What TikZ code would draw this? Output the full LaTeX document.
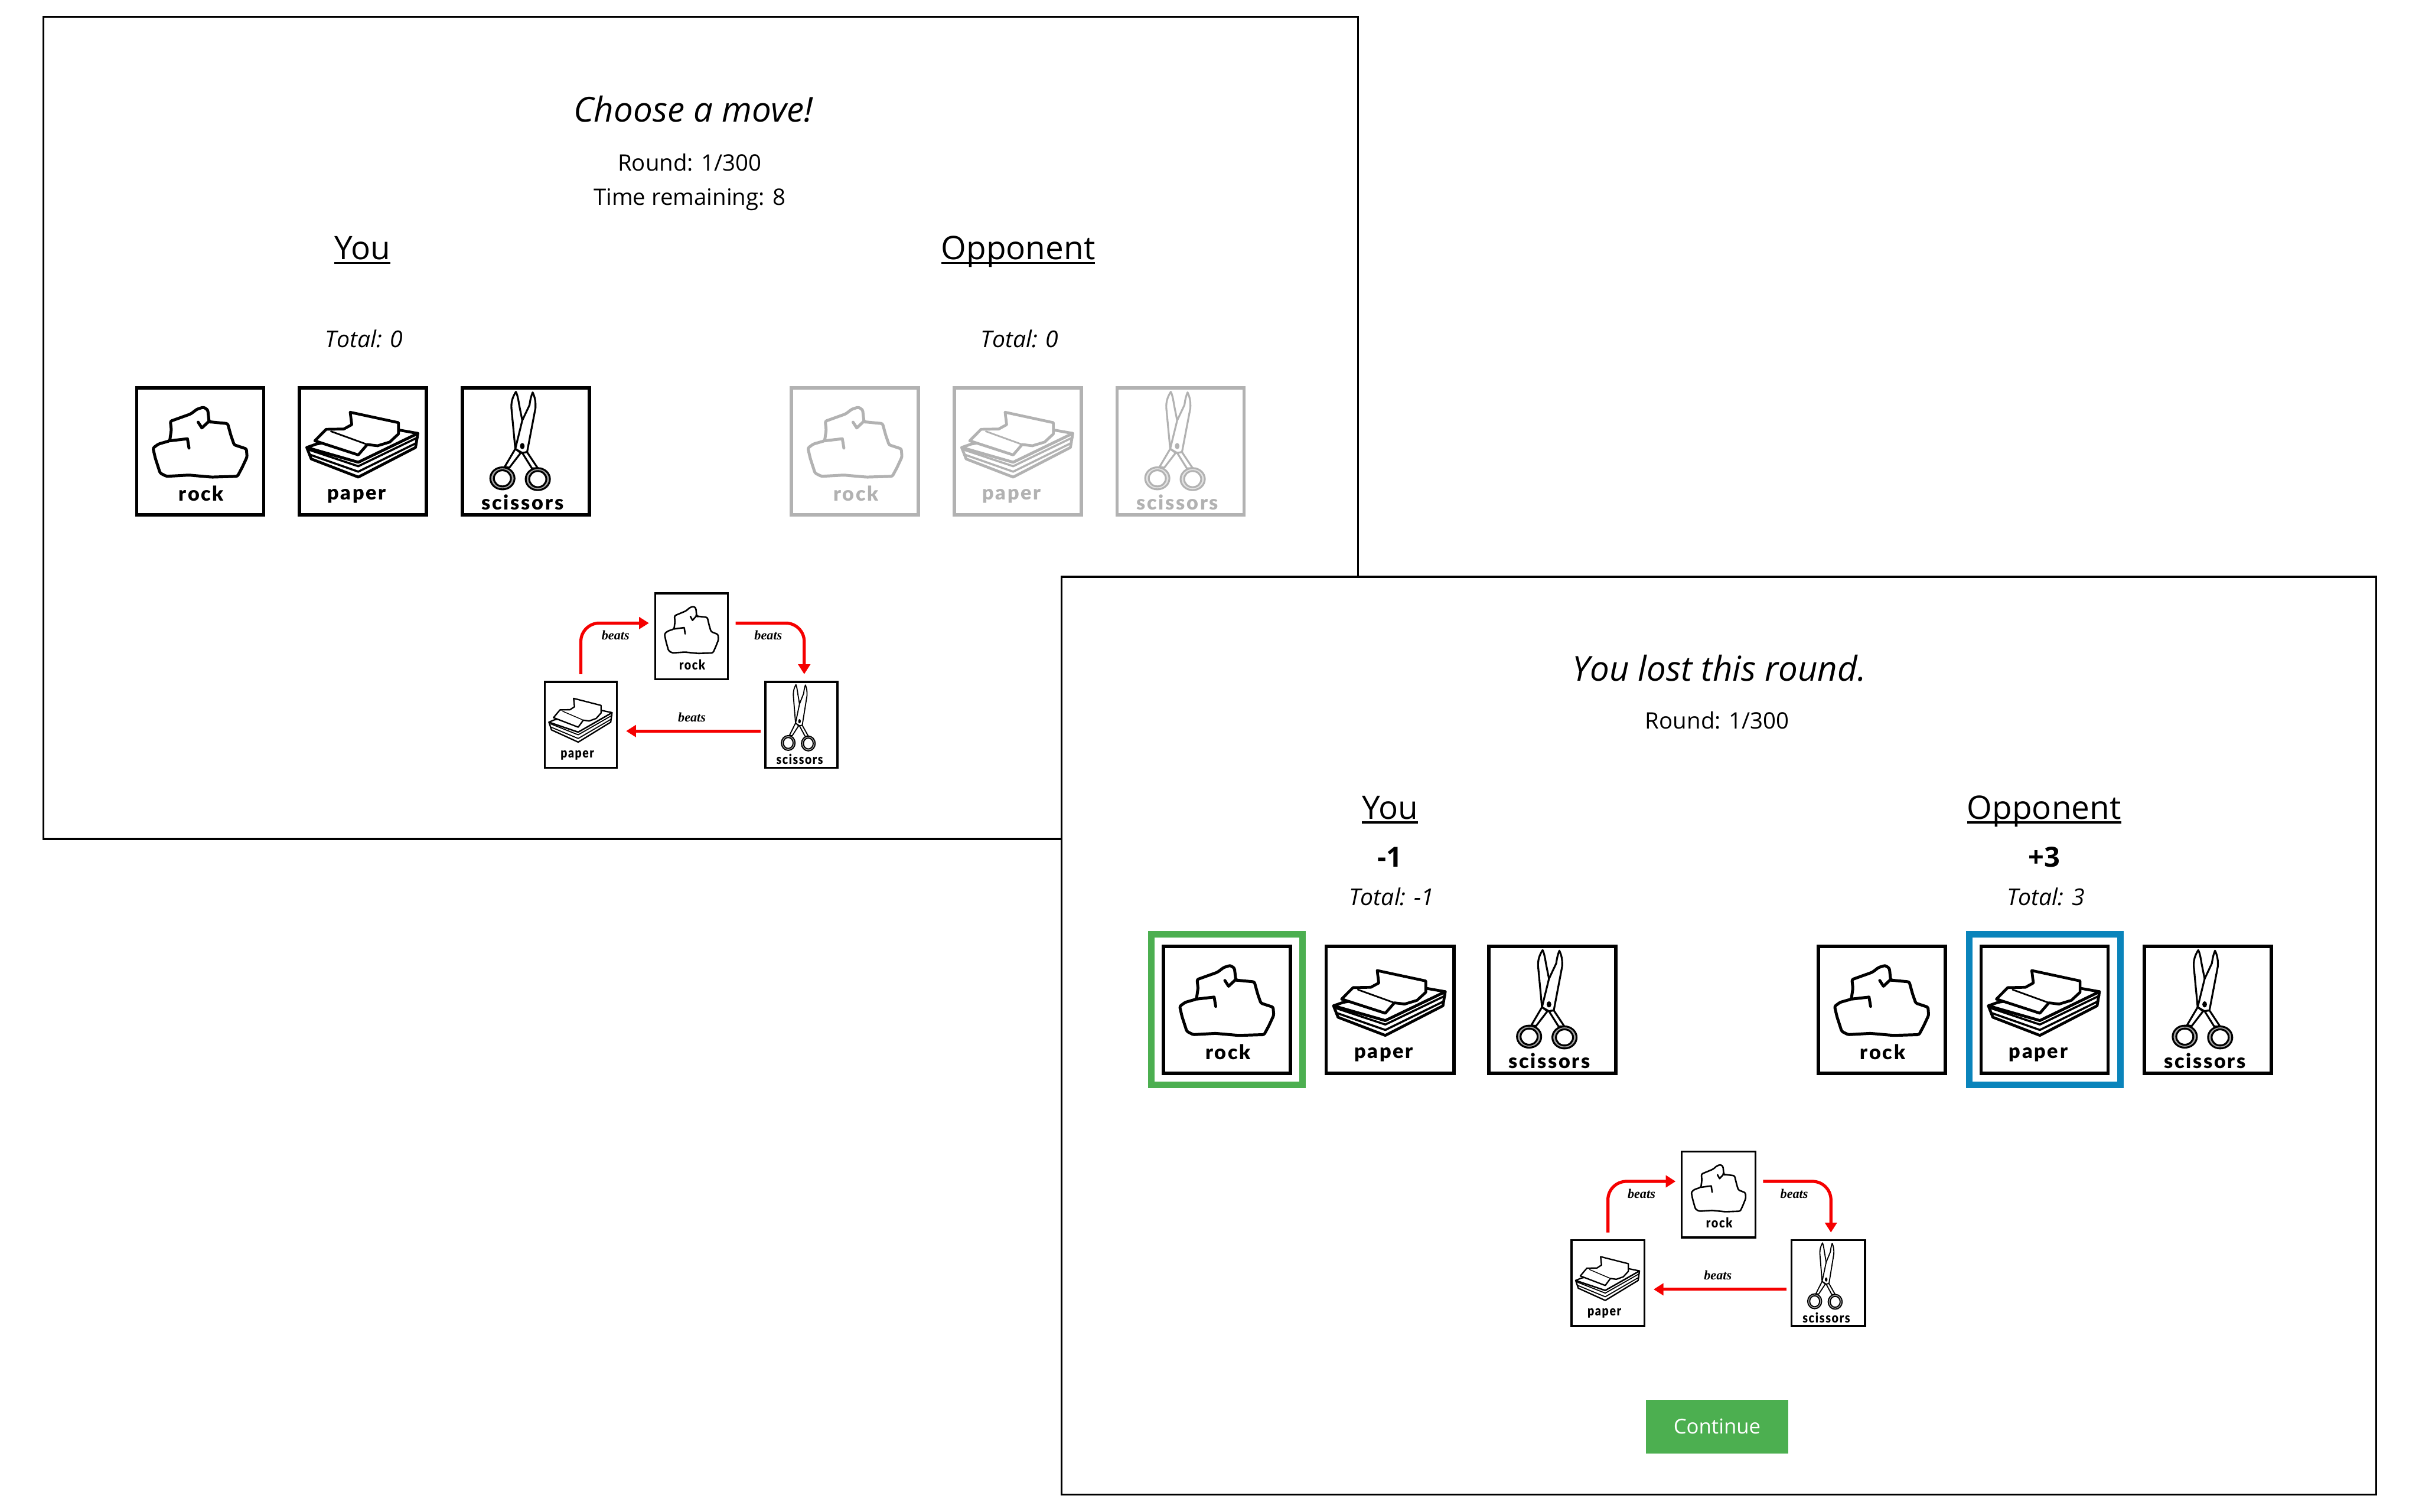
\documentclass[tikz,border=0pt]{standalone}
\usepackage{fontspec}
\setmainfont{Open Sans}
\newfontfamily\labfont[LetterSpace=8]{Lato Black}
\newfontfamily\beatfont{Liberation Serif}
\usetikzlibrary{arrows.meta,calc}
\definecolor{gbord}{HTML}{4CAF50}
\definecolor{bbord}{HTML}{0A84BB}
\colorlet{ink}{black}
\newsavebox\ulbox
\newcommand\ulined[1]{\sbox\ulbox{#1}\rlap{\rule[-2.9pt]{\wd\ulbox}{1.3pt}}\usebox\ulbox}
\tikzset{
  x=1pt,y=-1pt,
  panel/.style={draw=black,line width=1.3pt,fill=white},
  cardbox/.style={draw=ink,fill=white,line width=#1,inner sep=0pt,outer sep=0pt},
  stroke/.style={draw=ink,line width=\ilw pt,line join=round,line cap=round},
  filled/.style={stroke,fill=white},
  iconlab/.style={text=ink,font=\labfont\fontsize{13}{15}\selectfont,inner sep=0pt,transform shape,anchor=base},
  title/.style={font=\itshape\fontsize{22.3}{27}\selectfont,inner sep=0pt,anchor=base},
  info/.style={font=\fontsize{14.7}{20}\selectfont,inner sep=0pt,anchor=base},
  head/.style={font=\fontsize{21}{27}\selectfont,inner sep=0pt,anchor=base},
  total/.style={font=\itshape\fontsize{15}{20}\selectfont,inner sep=0pt,anchor=base},
  delta/.style={font=\bfseries\fontsize{18}{22}\selectfont,inner sep=0pt,anchor=base},
  beatsarrow/.style={draw={rgb,255:red,245;green,0;blue,0},line width=2pt,rounded corners=12pt,-{Triangle[length=6.4pt,width=7.6pt]}},
  beatslab/.style={font=\beatfont\bfseries\itshape\fontsize{8.5}{10}\selectfont,inner sep=0pt},
  hilite/.style={draw=#1,line width=4.2pt,inner sep=0pt,outer sep=0pt,fill=none},
  button/.style={fill=gbord,text=white,font=\fontsize{13.3}{17}\selectfont,inner sep=0pt,minimum width=92pt,minimum height=35pt},
}
\newcommand\iconrock{%
  \draw[filled,rounded corners=1pt] (44.2,13.4) -- (46.9,15.2) -- (47.7,22.5) -- (48.3,22.9) -- (59.7,24) -- (61.8,31.6) -- (63.9,37.7) -- (71.8,40.3) -- (72.2,45.5) -- (69,52.4) -- (66,58) -- (49.4,58.5) -- (34.8,57.2) -- (20.3,58) -- (16.2,55.9) -- (13.1,46.3) -- (11.6,39.8) -- (15.1,37.2) -- (22.4,35.1) -- (23.4,28.1) -- (22.8,22.5) -- (35.9,17.8) -- (40,14.7) -- cycle;
  \draw[stroke] (47.7,22.5) -- (43.1,26.8) -- (40.7,23.1);
  \draw[stroke] (22.4,35.1) -- (33.8,33.8) -- (34.8,39.8);
  \node[iconlab] (\cardname-lab) at (42.7,74) {rock};
}
\newcommand\iconpaper{%
  \draw[filled] (5.8,39.4) -- (8.7,46.8) -- (39,58.5) -- (75.9,39.4) -- (77.4,30.3) -- (39,48.9) -- cycle;
  \draw[stroke,line width=0.75*\ilw pt] (7.9,41.1) -- (39,51.5) -- (77.4,32.9);
  \draw[stroke,line width=0.75*\ilw pt] (8.3,44.2) -- (39,55) -- (76.7,36.4);
  \draw[filled] (5.8,39.4) -- (12,37.2) -- (64.9,28.1) -- (77.4,30.3) -- (39,48.9) -- cycle;
  \draw[filled] (33.8,16.7) -- (64.9,23.4) -- (64.9,30.7) -- (59.3,35.9) -- (51.4,38.3) -- (44.8,37.5) -- (39,44.2) -- (11,35.1) -- (18.3,27.7) -- (29.7,27.5) -- (34.8,24.7) -- cycle;
  \draw[stroke,line width=0.6*\ilw pt] (21.4,29) -- (44.8,37.5);
  \node[iconlab] (\cardname-lab) at (38,73.2) {paper};
}
\newcommand\iconscissors{%
  \draw[filled] (35.7,3.5) .. controls (33.5,7) and (32.6,10) .. (32.8,14) -- (35.3,40.3) -- (38.8,42.9) -- (42.9,42.4) -- (39.8,22) -- (37.8,12) .. controls (37.2,8) and (36.5,5) .. (35.7,3.5) -- cycle;
  \draw[filled] (46.5,3.9) .. controls (48,7) and (48.5,10) .. (48.3,14) -- (42.9,42.4) -- (39.8,42.9) -- (35.3,40.3) -- (39.8,22) -- (44.5,12) .. controls (45,8) and (45.8,5.5) .. (46.5,3.9) -- cycle;
  \draw[filled] (35.3,40.3) -- (28.4,52) -- (31.5,52.4) -- (38.8,42.9) -- cycle;
  \draw[filled] (42.9,42.4) -- (49.8,52.8) -- (46,52.8) -- (39.8,42.9) -- cycle;
  \draw[stroke,fill=ink!35] (27,59.3) ellipse [x radius=7.8,y radius=7.1];
  \draw[filled] (27,59.3) ellipse [x radius=5.5,y radius=5.2];
  \draw[stroke,fill=ink!35] (49.8,59.8) ellipse [x radius=7.8,y radius=7.1];
  \draw[filled] (49.8,59.8) ellipse [x radius=5.5,y radius=5.2];
  \fill[ink] (39.8,38.5) ellipse [x radius=1.5,y radius=2];
  \node[iconlab] (\cardname-lab) at (40,79.6) {scissors};
}
% name, x0, y0, x1, y1, border width, icon stroke, icon command
\newcommand\card[8]{%
  \pgfmathsetmacro\cw{#4-#2}\pgfmathsetmacro\ch{#5-#3}%
  \pgfmathsetmacro\cxs{\cw/84}\pgfmathsetmacro\cys{\ch/84}%
  \node[cardbox=#6 pt,minimum width=\cw pt - #6 pt,minimum height=\ch pt - #6 pt] (#1) at ({(#2+#4)/2},{(#3+#5)/2}) {};
  \def\cardname{#1}\def\ilw{#7}%
  \begin{scope}[shift={(#2,#3)},xscale=\cxs,yscale=\cys]#8\end{scope}%
}
\begin{document}
\begin{tikzpicture}
\useasboundingbox (0,0) rectangle (1568,980);
\fill[white] (0,0) rectangle (1568,980);
% first panel
\node[panel,minimum width=852pt,minimum height=533pt,inner sep=0pt,outer sep=0pt] (panelA) at (454.2,277.5) {};
\node[title] (a1) at (449.5,79.2) {Choose a move!};
\node[info] (a2) at (447,110.8) {Round: 1/300};
\node[info] (a3) at (447,133) {Time remaining: 8};
\node[head] (a4) at (235,168.3) {\ulined{You}};
\node[head] (a5) at (660,168.3) {\ulined{Opponent}};
\node[total] (a6) at (236,225.3) {Total: 0};
\node[total] (a7) at (661,225.3) {Total: 0};
\card{ac1}{87.5}{250.5}{172}{335}{2.2}{1.9}{\iconrock}
\card{ac2}{193}{250.5}{277.5}{335}{2.2}{1.8}{\iconpaper}
\card{ac3}{298.5}{250.5}{383}{335}{2.2}{1.2}{\iconscissors}
\begin{scope}
\colorlet{ink}{black!30}
\card{ac4}{512}{250.5}{596.5}{335}{2.2}{1.9}{\iconrock}
\card{ac5}{617.5}{250.5}{702}{335}{2.2}{1.8}{\iconpaper}
\card{ac6}{723}{250.5}{807.5}{335}{2.2}{1.2}{\iconscissors}
\end{scope}
\card{ad1}{424}{384}{472.5}{441}{1.3}{1}{\iconrock}
\card{ad2}{352.5}{441.5}{400.5}{498.5}{1.3}{0.9}{\iconpaper}
\card{ad3}{495.5}{441.5}{543.5}{498.5}{1.3}{0.7}{\iconscissors}
\draw[beatsarrow,shorten <=5pt,shorten >=4pt] (ad2.north) |- ($(ad1.west)+(0,-8.5)$);
\draw[beatsarrow,shorten <=5pt,shorten >=5pt] ($(ad1.east)+(0,-8.5)$) -| ($(ad3.north)+(1.8,0)$);
\draw[beatsarrow,shorten <=3pt,shorten >=6pt] ($(ad3.west)+(0,4)$) -- ($(ad2.east)+(0,4)$);
\node[beatslab] (ab1) at (399,412) {beats};
\node[beatslab] (ab2) at (498,412) {beats};
\node[beatslab] (ab3) at (448.5,465) {beats};
% second panel
\node[panel,minimum width=852pt,minimum height=595pt,inner sep=0pt,outer sep=0pt] (panelB) at (1114.2,671.5) {};
\node[title] (b1) at (1114.5,441.5) {You lost this round.};
\node[info] (b2) at (1113,472.7) {Round: 1/300};
\node[head] (b3) at (901,531) {\ulined{You}};
\node[head] (b4) at (1325,531) {\ulined{Opponent}};
\node[delta] (b5) at (901,562.2) {-1};
\node[delta] (b6) at (1325,562.2) {+3};
\node[total] (b7) at (902,587.2) {Total: -1};
\node[total] (b8) at (1326,587.2) {Total: 3};
\card{bc1}{753}{612.5}{837.5}{697}{2.2}{1.9}{\iconrock}
\card{bc2}{858.5}{612.5}{943.5}{697}{2.2}{1.8}{\iconpaper}
\card{bc3}{964}{612.5}{1048.5}{697}{2.2}{1.2}{\iconscissors}
\card{bc4}{1177.5}{612.5}{1262}{697}{2.2}{1.9}{\iconrock}
\card{bc5}{1283}{612.5}{1367.5}{697}{2.2}{1.8}{\iconpaper}
\card{bc6}{1389}{612.5}{1473.5}{697}{2.2}{1.2}{\iconscissors}
\node[hilite=gbord,minimum width=98pt,minimum height=97.5pt] (bg) at (795.4,654.5) {};
\node[hilite=bbord,minimum width=98pt,minimum height=97.5pt] (bb) at (1325.6,654.5) {};
\card{bd1}{1089.5}{746}{1138.5}{803}{1.3}{1}{\iconrock}
\card{bd2}{1018}{803.5}{1066.5}{860.5}{1.3}{0.9}{\iconpaper}
\card{bd3}{1160.5}{803.5}{1209.5}{860.5}{1.3}{0.7}{\iconscissors}
\draw[beatsarrow,shorten <=5pt,shorten >=4pt] (bd2.north) |- ($(bd1.west)+(0,-8.5)$);
\draw[beatsarrow,shorten <=5pt,shorten >=5pt] ($(bd1.east)+(0,-8.5)$) -| ($(bd3.north)+(1.8,0)$);
\draw[beatsarrow,shorten <=3pt,shorten >=6pt] ($(bd3.west)+(0,4)$) -- ($(bd2.east)+(0,4)$);
\node[beatslab] (bb1) at (1064,774) {beats};
\node[beatslab] (bb2) at (1163,774) {beats};
\node[beatslab] (bb3) at (1113.5,827) {beats};
\node[button] (btn) at (1113,925) {Continue};
\end{tikzpicture}
\end{document}
